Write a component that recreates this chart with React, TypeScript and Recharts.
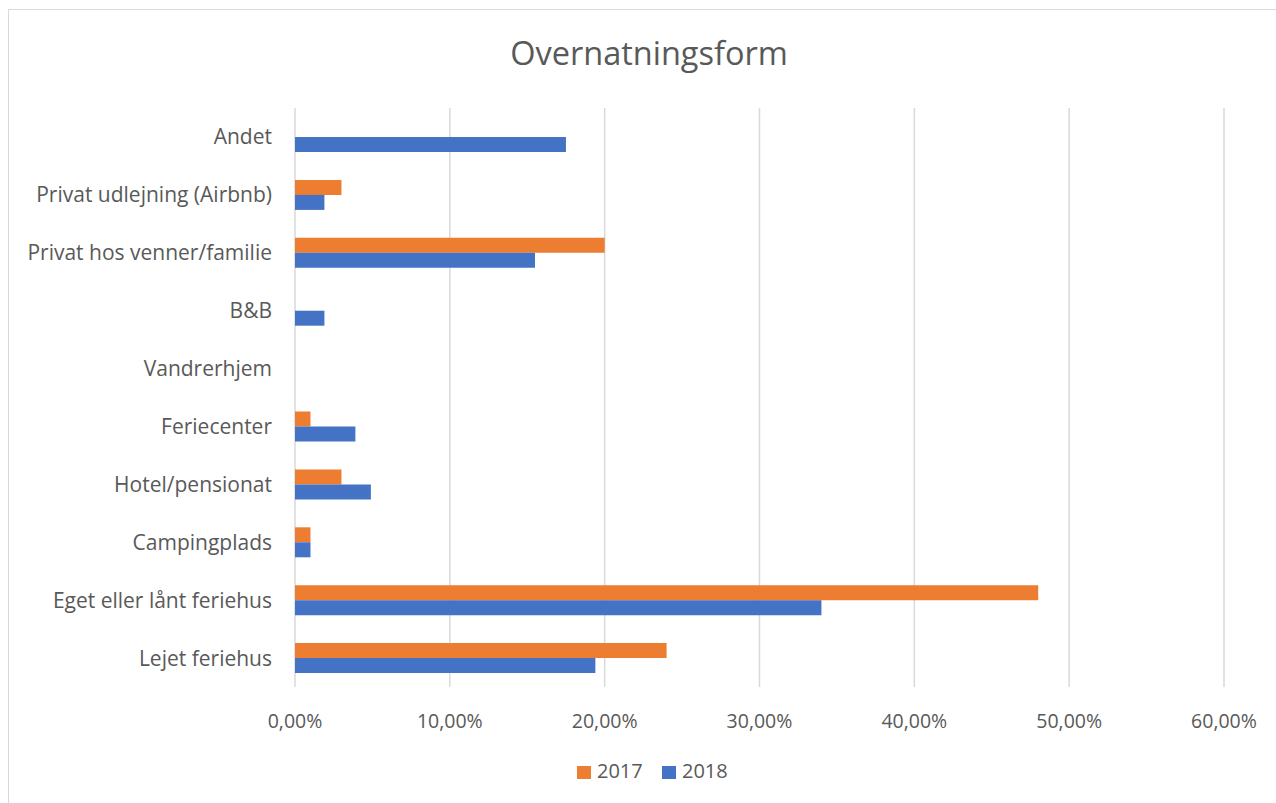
import { Bar, BarChart, CartesianGrid, XAxis, YAxis } from "recharts";

const kategorier = [
  "Andet",
  "Privat udlejning (Airbnb)",
  "Privat hos venner/familie",
  "B&B",
  "Vandrerhjem",
  "Feriecenter",
  "Hotel/pensionat",
  "Campingplads",
  "Eget eller lånt feriehus",
  "Lejet feriehus",
];

const vaerdier2017 = [0, 0.03, 0.2, 0, 0, 0.01, 0.03, 0.01, 0.48, 0.24];
const vaerdier2018 = [0.175, 0.019, 0.155, 0.019, 0, 0.039, 0.049, 0.01, 0.34, 0.194];

const xTicks = [0, 0.1, 0.2, 0.3, 0.4, 0.5, 0.6];

const ORANGE = "#ED7D31";
const BLUE = "#4472C4";
const TXT = "#595959";
const FONT = "'Open Sans', Lato, sans-serif";

const data = kategorier.map((k, i) => ({
  kategori: k,
  "2017": vaerdier2017[i],
  "2018": vaerdier2018[i],
}));

const procent = (v: number) => (v * 100).toFixed(2).replace(".", ",") + "%";

function KategoriTick(props: any) {
  const { y, payload } = props;
  return (
    <text
      x={272}
      y={y}
      dy={7.5}
      textAnchor="end"
      fill={TXT}
      fontSize={21}
      fontFamily={FONT}
    >
      {payload.value}
    </text>
  );
}

export default function App() {
  return (
    <div
      style={{
        position: "absolute",
        left: 0,
        top: 0,
        width: 1276,
        height: 803,
        background: "#fff",
        overflow: "hidden",
        fontFamily: FONT,
      }}
    >
      <div
        style={{
          position: "absolute",
          left: 8,
          top: 9,
          width: 1290,
          height: 820,
          border: "1.5px solid #D9D9D9",
          boxSizing: "border-box",
        }}
      />
      <div
        style={{
          position: "absolute",
          left: 0,
          width: 1298,
          top: 31,
          textAlign: "center",
          fontSize: 32.5,
          color: TXT,
          lineHeight: "44px",
        }}
      >
        Overnatningsform
      </div>
      <div style={{ position: "absolute", left: 0, top: 0 }}>
        <BarChart
          width={1276}
          height={803}
          data={data}
          layout="vertical"
          barGap={0}
          margin={{ top: 108, right: 52, bottom: 66, left: 0 }}
        >
          <CartesianGrid stroke="#D9D9D9" strokeWidth={1.5} horizontal={false} />
          <XAxis
            type="number"
            domain={[0, 0.6]}
            ticks={xTicks}
            tickFormatter={procent}
            axisLine={false}
            tickLine={false}
            height={50}
            tickMargin={21}
            tick={{ fill: TXT, fontSize: 19.5, fontFamily: FONT }}
            interval={0}
          />
          <YAxis
            type="category"
            dataKey="kategori"
            width={295}
            axisLine={false}
            tickLine={false}
            tick={<KategoriTick />}
            interval={0}
          />
          <Bar dataKey="2017" fill={ORANGE} barSize={15} isAnimationActive={false} />
          <Bar dataKey="2018" fill={BLUE} barSize={15} isAnimationActive={false} />
        </BarChart>
      </div>
      <div style={{ position: "absolute", left: 577, top: 766, width: 14, height: 13, background: ORANGE }} />
      <div style={{ position: "absolute", left: 597, top: 757, fontSize: 20, color: TXT, lineHeight: "28px" }}>
        2017
      </div>
      <div style={{ position: "absolute", left: 662, top: 766, width: 14, height: 13, background: BLUE }} />
      <div style={{ position: "absolute", left: 682, top: 757, fontSize: 20, color: TXT, lineHeight: "28px" }}>
        2018
      </div>
    </div>
  );
}
